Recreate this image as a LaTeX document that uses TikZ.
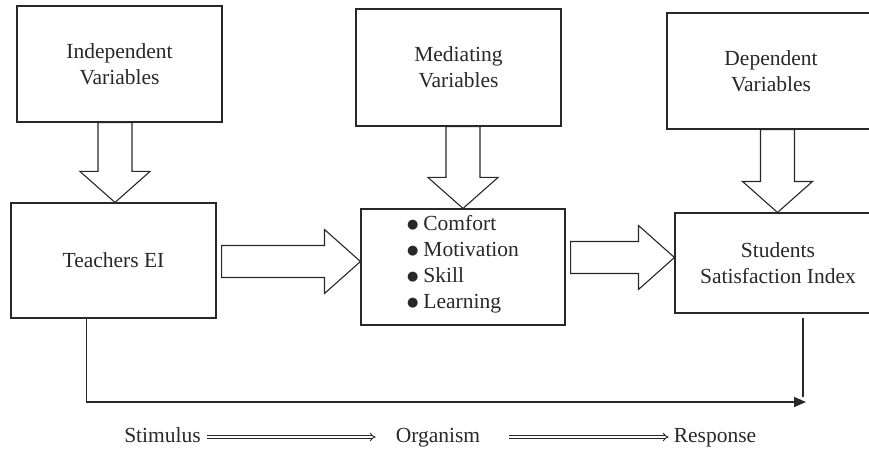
\documentclass[tikz,border=0pt]{standalone}
\usepackage{fontspec}
\setmainfont{Liberation Serif}
\newfontfamily\dotfont{DejaVu Sans}
\usetikzlibrary{arrows.meta,positioning,calc}
\definecolor{inkgrey}{RGB}{40,40,40}
\newcommand{\itembullet}{\raisebox{1.5pt}{\dotfont\fontsize{13}{13}\selectfont ●}\hspace{5pt}}
\tikzset{
  varbox/.style={draw=inkgrey,line width=1.1pt,align=center,inner sep=0pt},
  blockarrow/.style={draw=inkgrey,line width=1.1pt,fill=white,line join=miter},
  fbline/.style={draw=inkgrey,line width=1.3pt},
  sorlabel/.style={inner sep=3pt,text height=14pt,text depth=4pt},
  sorarrow/.style={draw=inkgrey,double=white,double distance=2pt,line width=0.9pt,-{Implies}},
}

\begin{document}
\begin{tikzpicture}[x=1pt,y=-1pt,font=\fontsize{21.5}{26}\selectfont,text=inkgrey]
\useasboundingbox (0,0) rectangle (869,449);
% ---------- variable boxes ----------
\node[varbox,minimum width=205pt,minimum height=116pt] (iv) at (119.5,64) {Independent\\Variables};
\node[varbox,minimum width=205pt,minimum height=117pt] (mv) at (458.5,67.5) {Mediating\\Variables};
\node[varbox,minimum width=208pt,minimum height=116pt] (dv) at (771,71) {Dependent\\Variables};
% ---------- model boxes ----------
\node[varbox,minimum width=205pt,minimum height=115pt] (tei) at (113.5,260.5) {Teachers EI};
\node[varbox,minimum width=204pt,minimum height=116pt] (mid) at (463,267) {};
\node[align=left,inner sep=0pt,yshift=3pt] (items) at (mid.center)
  {\itembullet Comfort\\\itembullet Motivation\\\itembullet Skill\\\itembullet Learning};
\node[varbox,minimum width=206pt,minimum height=100pt] (ssi) at (778,263) {Students\\Satisfaction Index};
% ---------- block arrows ----------
\foreach \a/\b/\dx in {iv/tei/1.5, mv/mid/0, dv/ssi/-0.5}{
  \draw[blockarrow] let \p1=(\a.south), \p2=(\b.north) in
    (\x2+\dx-17,\y1) -- (\x2+\dx+17,\y1) -- (\x2+\dx+17,\y2+31) -- (\x2+\dx+35,\y2+31)
    -- (\x2+\dx,\y2) -- (\x2+\dx-35,\y2+31) -- (\x2+\dx-17,\y2+31) -- cycle;
}
\foreach \a/\b/\dy in {tei/mid/-1, mid/ssi/9.5}{
  \draw[blockarrow] let \p1=(\a.east), \p2=(\b.west) in
    (\x1+5,\y1+\dy+16) -- (\x2-36,\y1+\dy+16) -- (\x2-36,\y1+\dy+32) -- (\x2,\y1+\dy)
    -- (\x2-36,\y1+\dy-32) -- (\x2-36,\y1+\dy-16) -- (\x1+5,\y1+\dy-16) -- cycle;
}
% ---------- direct link ----------
\coordinate (hit) at (806,402);
\coordinate (rise) at (803,397);
\draw[fbline,-{Triangle[length=12pt,width=10pt]}] ($(tei.south west)!0.37!(tei.south east)$) |- (hit);
\draw[fbline] ([yshift=-4pt]ssi.south -| rise) -- (rise);
% ---------- S-O-R ----------
\node[sorlabel] (stim) at (162.5,437) {Stimulus};
\node[sorlabel] (org) at (438,437) {Organism};
\node[sorlabel] (resp) at (715,437) {Response};
\draw[sorarrow,shorten <=3pt,shorten >=17pt] (stim.east) -- (org.west);
\draw[sorarrow,shorten <=26pt,shorten >=2pt] (org.east) -- (resp.west);
\end{tikzpicture}
\end{document}
